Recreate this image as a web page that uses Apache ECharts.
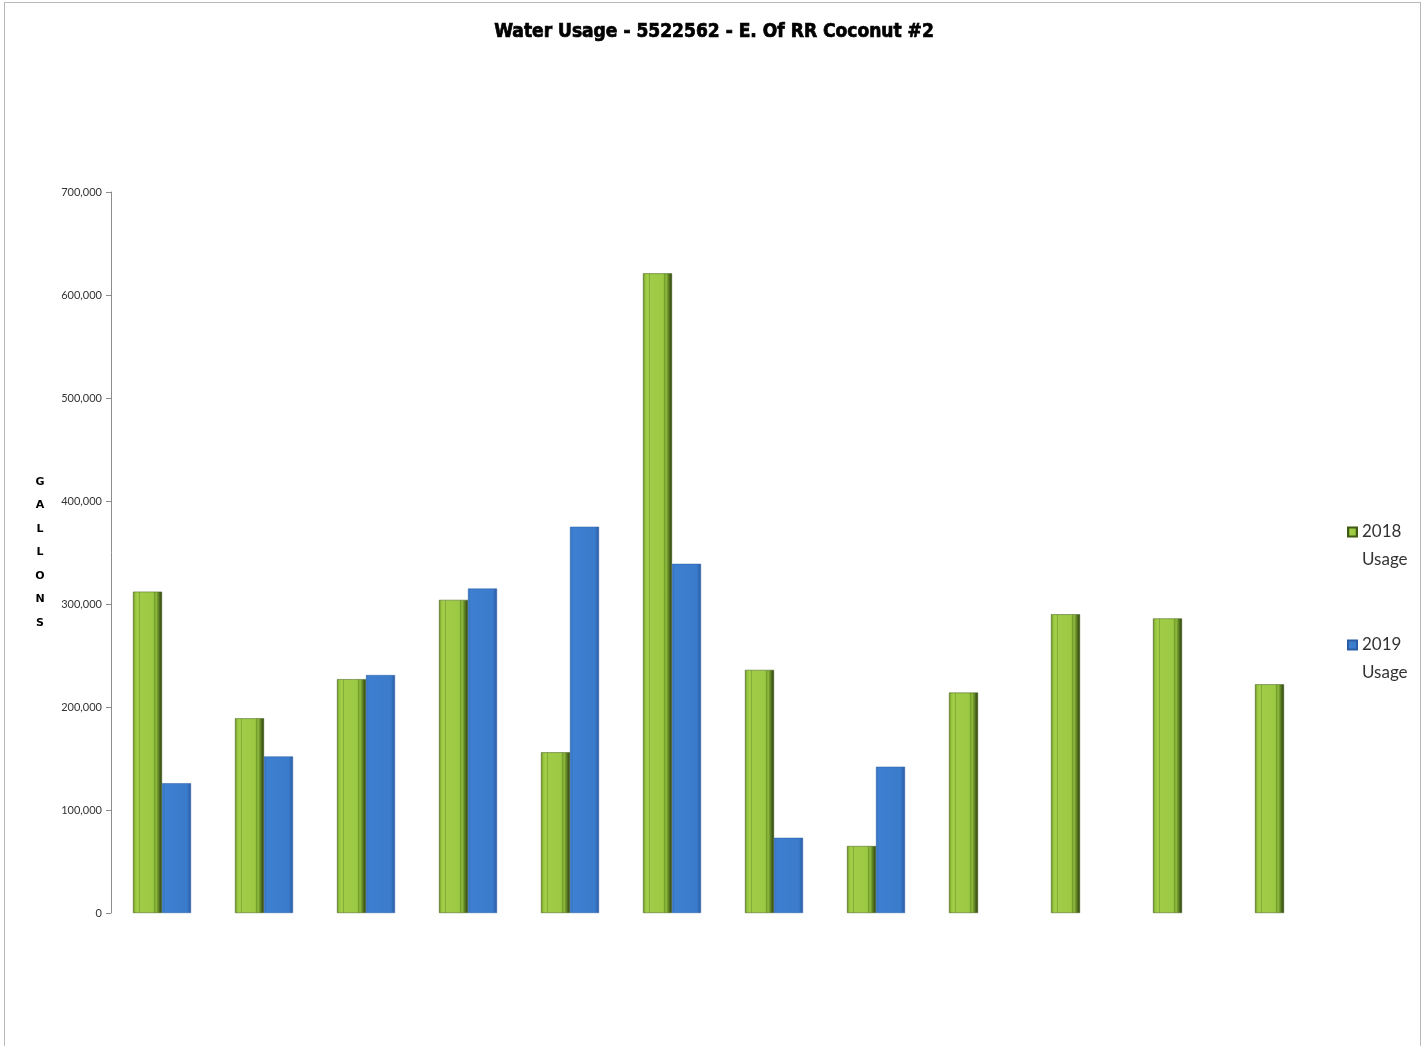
<!DOCTYPE html>
<html>
<head>
<meta charset="utf-8">
<script src="https://cdn.jsdelivr.net/npm/echarts@6/dist/echarts.min.js"></script>
<style>
html,body{margin:0;padding:0;background:#fff;}
#frame{position:absolute;left:4px;top:2px;width:1417px;height:1060px;border:1px solid #b8b8b8;box-sizing:border-box;}
#chart{position:absolute;left:0;top:0;width:1428px;height:1046px;}
</style>
</head>
<body>
<div id="frame"></div>
<div id="chart"></div>
<script>
const categories = ['Jan','Feb','Mar','Apr','May','Jun','Jul','Aug','Sep','Oct','Nov','Dec'];
const usage2018 = [312000, 189000, 227000, 304000, 156000, 621000, 236000, 65000, 214000, 290000, 286000, 222000];
const usage2019 = [126000, 152000, 231000, 315000, 375000, 339000, 73000, 142000, null, null, null, null];
const seriesNames = ['2018 Usage', '2019 Usage'];
const titleText = 'Water Usage - 5522562 - E. Of RR Coconut #2';
const axisName = 'GALLONS';

const chart = echarts.init(document.getElementById('chart'));
const greenGrad = new echarts.graphic.LinearGradient(0,0,1,0,[
  {offset:0,color:'#6a8c28'},
  {offset:0.08,color:'#96c43e'},
  {offset:0.18,color:'#a8d44c'},
  {offset:0.22,color:'#82ab36'},
  {offset:0.26,color:'#a0cc47'},
  {offset:0.7,color:'#9cc944'},
  {offset:0.74,color:'#74a02c'},
  {offset:0.8,color:'#8fbb3d'},
  {offset:0.9,color:'#557620'},
  {offset:1,color:'#2c3f0c'}
]);
const blueGrad = new echarts.graphic.LinearGradient(0,0,1,0,[
  {offset:0,color:'#3370bf'},
  {offset:0.1,color:'#3d7fd0'},
  {offset:0.85,color:'#3b7bcc'},
  {offset:1,color:'#2a5ca2'}
]);
chart.setOption({
  animation:false,
  title:{
    text:titleText, left:'center', top:18,
    textStyle:{fontFamily:'"DejaVu Sans Condensed", "DejaVu Sans", sans-serif', fontWeight:'bold', fontSize:19, color:'#000', textBorderColor:'#000', textBorderWidth:0.7}
  },
  legend:{
    orient:'vertical', left:1342, top:485, itemGap:29, itemWidth:9, itemHeight:9,
    icon:'rect',
    formatter:function(n){return ' \n' + n.replace(' ','\n');},
    textStyle:{fontFamily:'Lato, sans-serif', fontSize:17, color:'#333', lineHeight:28},
    data:seriesNames
  },
  grid:{left:111, right:93, top:192, bottom:133, containLabel:false},
  xAxis:{
    type:'category', data:categories,
    axisLine:{show:false}, axisTick:{show:false}, axisLabel:{show:false}
  },
  yAxis:{
    type:'value', min:0, max:700000, interval:100000,
    name:axisName.split('').join('\n'), nameLocation:'middle', nameRotate:0, nameGap:71,
    nameTextStyle:{fontFamily:'DejaVu Sans', fontWeight:'bold', fontSize:11, color:'#000', lineHeight:23.5, align:'center'},
    axisLine:{show:true, lineStyle:{color:'#8c8c8c', width:1}},
    axisTick:{show:true, length:5, lineStyle:{color:'#8c8c8c'}},
    splitLine:{show:false},
    axisLabel:{fontFamily:'Lato, sans-serif', fontSize:11, color:'#333', margin:9,
      formatter:function(v){return v.toLocaleString('en-US');}}
  },
  series:[
    {name:seriesNames[0], type:'bar', data:usage2018, barWidth:29, barGap:'0%',
     itemStyle:{color:greenGrad, borderColor:'#3f5a14', borderWidth:0.5}},
    {name:seriesNames[1], type:'bar', data:usage2019, barWidth:29, barGap:'0%',
     itemStyle:{color:blueGrad, borderColor:'#2a5da5', borderWidth:0.5}}
  ]
});
</script>
</body>
</html>
